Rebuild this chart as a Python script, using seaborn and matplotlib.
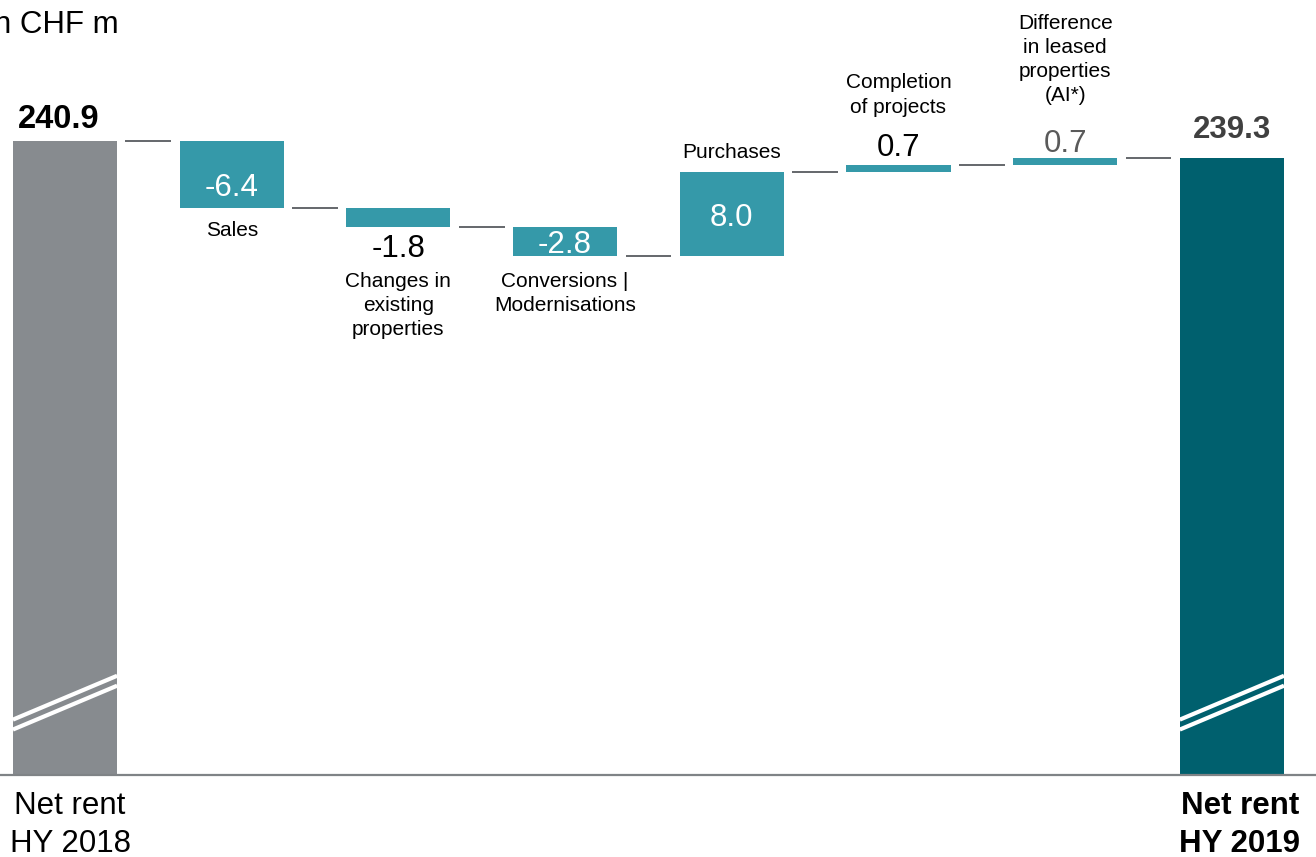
import numpy as np
import pandas as pd
import matplotlib
matplotlib.use("Agg")
import matplotlib.pyplot as plt
import seaborn as sns

# ---- data -------------------------------------------------------------
categories = ["Net rent\nHY 2018", "Sales", "Changes in\nexisting\nproperties",
              "Conversions |\nModernisations", "Purchases", "Completion\nof projects",
              "Difference\nin leased\nproperties\n(AI*)", "Net rent\nHY 2019"]
start_value = 240.9
changes = [-6.4, -1.8, -2.8, 8.0, 0.7, 0.7]
end_value = 239.3
value_labels = ["240.9", "-6.4", "-1.8", "-2.8", "8.0", "0.7", "0.7", "239.3"]
unit_label = "in CHF m"

# ---- styling ----------------------------------------------------------
GREY = "#878b8f"
TEAL = "#3599a9"
DARK_TEAL = "#00606e"
FONT = "Liberation Sans"

sns.set_theme(style="white")
plt.rcParams["font.family"] = [FONT, "DejaVu Sans"]

W, H = 1316, 857
fig = plt.figure(figsize=(W / 100, H / 100), dpi=100)
ax = fig.add_axes([0, 82 / H, 1, 775 / H])

n = len(categories)
levels = start_value + np.cumsum(changes)
before = np.concatenate([[start_value], levels[:-1]])
after = levels
bar_w = 0.625
y_low, y_high = 180.2, 254.4

# totals (bars run from the axis floor, which is a broken scale)
totals = pd.DataFrame({"cat": [categories[0], categories[-1]],
                       "val": [start_value - y_low, end_value - y_low]})
sns.barplot(data=totals, x="cat", y="val", order=categories, hue="cat",
            palette=[GREY, DARK_TEAL], hue_order=[categories[0], categories[-1]],
            width=bar_w, saturation=1, errorbar=None, legend=False,
            bottom=y_low, linewidth=0, ax=ax)

# floating change bars
steps = pd.DataFrame({"cat": categories[1:-1],
                      "h": np.abs(changes),
                      "b": np.minimum(before, after)})
sns.barplot(data=steps, x="cat", y="h", order=categories, color=TEAL,
            width=bar_w, saturation=1, errorbar=None,
            bottom=steps["b"].to_numpy(), linewidth=0, ax=ax)

ax.set_xlim(-65 / 166.7, (W - 65) / 166.7)
ax.set_ylim(y_low, y_high)

# connectors between consecutive bars
conn_levels = [start_value] + list(levels)
gap = 0.05
for i in range(n - 1):
    ax.plot([i + bar_w / 2 + gap, i + 1 - bar_w / 2 - gap],
            [conn_levels[i], conn_levels[i]], color="#3a3f44", lw=1.1,
            solid_capstyle="butt", zorder=3)

# axis-break marks on the two total bars
for i in (0, n - 1):
    x0, x1 = i - bar_w / 2, i + bar_w / 2
    for dy in (0.0, -0.95):
        ax.plot([x0, x1], [185.5 + dy, 189.7 + dy], color="white", lw=3.0,
                solid_capstyle="butt", zorder=4)

PX = 0.72  # points per pixel at 100 dpi


def put(text, x, y, dy_px, dx_px=0, color="black", size=22.5, weight="normal",
        ls=1.22):
    ax.annotate(text, (x, y), xytext=(dx_px * PX, dy_px * PX),
                textcoords="offset points", ha="center", va="center",
                color=color, fontsize=size, fontweight=weight, linespacing=ls,
                multialignment="center", zorder=5)


# total values
put(value_labels[0], 0, start_value, 22, dx_px=-6, size=23.5, weight="bold")
put(value_labels[-1], n - 1, end_value, 28, color="#404040", weight="bold")

# change values and category names
# (value position, value colour, value offset px, category offset px)
layout = [
    ("inside", "white", -14, -23),
    ("below", "black", -22, -79),
    ("inside", "white", -4, -38),
    ("inside", "white", -4, 20),
    ("above", "black", 17, 70),
    ("above", "#5a5a5a", 14, 98),
]
for k, (pos, col, voff, coff) in enumerate(layout):
    i = k + 1
    lo, hi = min(before[k], after[k]), max(before[k], after[k])
    if pos == "inside":
        put(value_labels[i], i, (lo + hi) / 2, voff, color=col)
    elif pos == "below":
        put(value_labels[i], i, lo, voff, color=col)
    else:
        put(value_labels[i], i, hi, voff, color=col)
    anchor = lo if coff < 0 else hi
    put(categories[i], i, anchor, coff, size=15, ls=1.34)

# axis styling
sns.despine(ax=ax, left=True, top=True, right=True, bottom=False)
ax.spines["bottom"].set_color("#7f8386")
ax.spines["bottom"].set_linewidth(1.6)
ax.set_yticks([])
ax.set_xticks([])
ax.set_ylabel("")
ax.set_xlabel("")
ax.grid(False)

# names of the two totals under the baseline
for i, dx, weight in ((0, 5, "normal"), (n - 1, 8, "bold")):
    ax.annotate(categories[i], (i, 0), xycoords=("data", "axes fraction"),
                xytext=(dx * PX, -16 * PX), textcoords="offset points",
                ha="center", va="top", fontsize=22.5, fontweight=weight,
                linespacing=1.34, multialignment="center", color="black",
                annotation_clip=False)

fig.text(-13 / W, 1 - 33 / H, unit_label, ha="left", va="baseline",
         fontsize=22.5, color="black")

fig.savefig("out.png", dpi=100)
